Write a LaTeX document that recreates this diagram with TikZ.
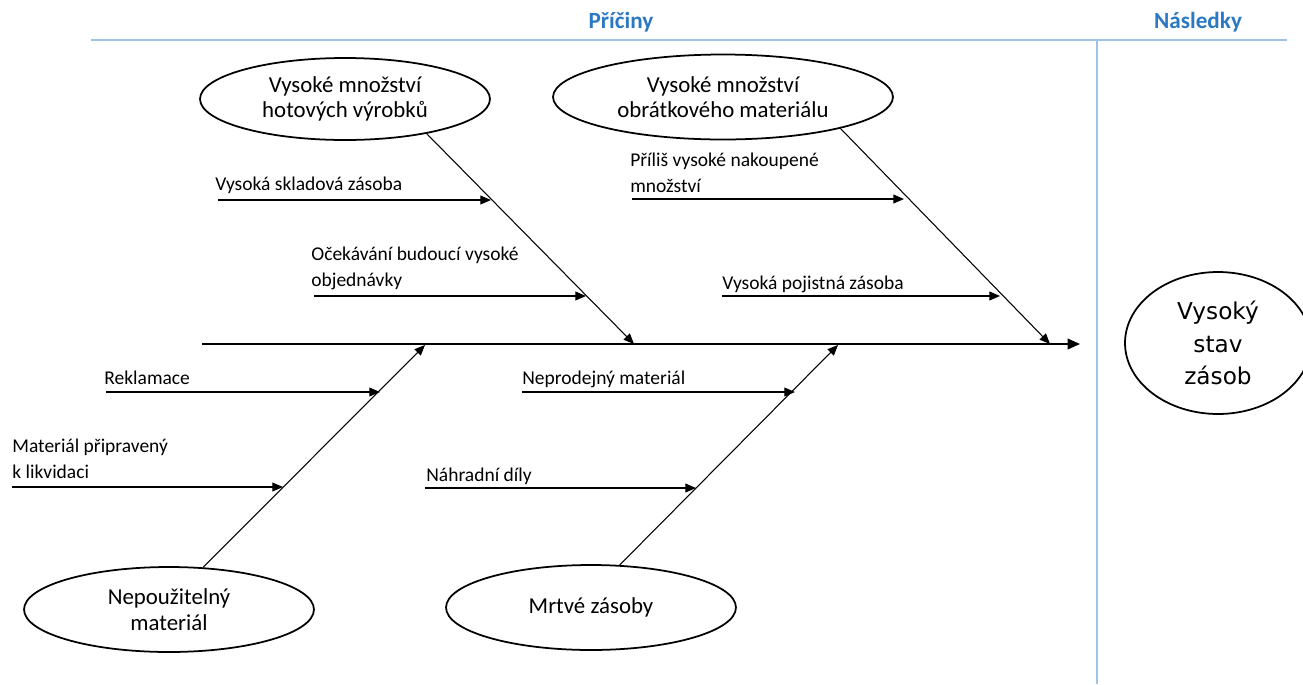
\documentclass[tikz,border=0pt]{standalone}
\usepackage{fontspec}
\setmainfont{Carlito}
\newfontfamily\effectfont{DejaVu Sans}
\usetikzlibrary{arrows.meta,shapes.geometric}
\definecolor{headblue}{HTML}{2B79C2}
\definecolor{ruleblue}{HTML}{9DC3E6}

\begin{document}
\begin{tikzpicture}[x=0.02cm,y=-0.02cm,
    cause/.style={ellipse, draw, line width=1pt, inner sep=0pt, align=center,
      minimum width=5.8cm, minimum height=1.7cm,
      font=\fontsize{13}{14.5}\selectfont},
    effect/.style={ellipse, draw, line width=1pt, inner sep=0pt, align=center,
      minimum width=3.72cm, minimum height=2.84cm,
      font=\effectfont\fontsize{13.2}{18.7}\selectfont},
    head/.style={text=headblue, font=\bfseries\fontsize{13.2}{15}\selectfont},
    lbl/.style={anchor=base west, inner sep=0pt, align=left,
      font=\fontsize{11.1}{14.6}\selectfont},
    bone/.style={line width=0.6pt, -{Triangle[length=6pt,width=5pt]}},
    sub/.style={line width=0.6pt, -{Triangle[length=6pt,width=5pt]}}]
    \useasboundingbox (0,0) rectangle (1303,684);

    % Header
    \node[head] (pric) at (621,22) {Příčiny};
    \node[head] (nasl) at (1198,22) {Následky};
    \draw[ruleblue, line width=0.8pt] (91,40) -- (1287,40);
    \draw[ruleblue, line width=0.8pt] (1097,40) -- (1097,684);

    % Nodes
    \node (hotove) [cause, minimum height=1.64cm] at (345,99)
      {Vysoké množství\\hotových výrobků};
    \node (obrat) [cause, minimum width=6.8cm] at (723,97)
      {Vysoké množství\\obrátkového materiálu};
    \node (nepouz) [cause] at (169,609.5) {Nepoužitelný\\materiál};
    \node (mrtve) [cause] at (591,607.5) {Mrtvé zásoby};
    \node (stav) [effect] at (1218,343) {Vysoký\\stav\\zásob};

    % Spine
    \coordinate (tail) at (202,344);
    \coordinate (head) at (1080,344);
    \draw[line width=1.1pt, -{Triangle[length=7pt,width=6pt]}] (tail) -- (head);

    % Bones
    \coordinate (h1) at (634,344);
    \coordinate (h2) at (1050,344);
    \coordinate (h3) at (425,345);
    \coordinate (h4) at (838,345);
    \draw[bone] (hotove.-23.4) -- (h1);
    \draw[bone] (obrat.-15.9) -- (h2);
    \draw[bone] (nepouz.51.5) -- (h3);
    \draw[bone] (mrtve.56.9) -- (h4);

    % Sub-causes
    \coordinate (s1) at (218,200); \coordinate (t1) at (491,200);
    \coordinate (s2) at (314,296); \coordinate (t2) at (586,296);
    \coordinate (s3) at (632,199); \coordinate (t3) at (904,199);
    \coordinate (s4) at (722,296); \coordinate (t4) at (1000,296);
    \coordinate (s5) at (106,392); \coordinate (t5) at (380,392);
    \coordinate (s6) at (12,487);  \coordinate (t6) at (283,487);
    \coordinate (s7) at (522,392); \coordinate (t7) at (795,392);
    \coordinate (s8) at (425,488); \coordinate (t8) at (696,488);

    \node[lbl] (l1) at (215,190) {Vysoká skladová zásoba};
    \node[lbl] (l2) at (311,286) {Očekávání budoucí vysoké\\objednávky};
    \node[lbl] (l3) at (630,192) {Příliš vysoké nakoupené\\množství};
    \node[lbl] (l4) at (722,289) {Vysoká pojistná zásoba};
    \node[lbl] (l5) at (104,384) {Reklamace};
    \node[lbl] (l6) at (12,478) {Materiál připravený\\k likvidaci};
    \node[lbl] (l7) at (522,384) {Neprodejný materiál};
    \node[lbl] (l8) at (426,481) {Náhradní díly};

    % Arrows
    \draw[sub] (s1) -- (t1);
    \draw[sub] (s2) -- (t2);
    \draw[sub] (s3) -- (t3);
    \draw[sub] (s4) -- (t4);
    \draw[sub] (s5) -- (t5);
    \draw[sub] (s6) -- (t6);
    \draw[sub] (s7) -- (t7);
    \draw[sub] (s8) -- (t8);
\end{tikzpicture}
\end{document}
